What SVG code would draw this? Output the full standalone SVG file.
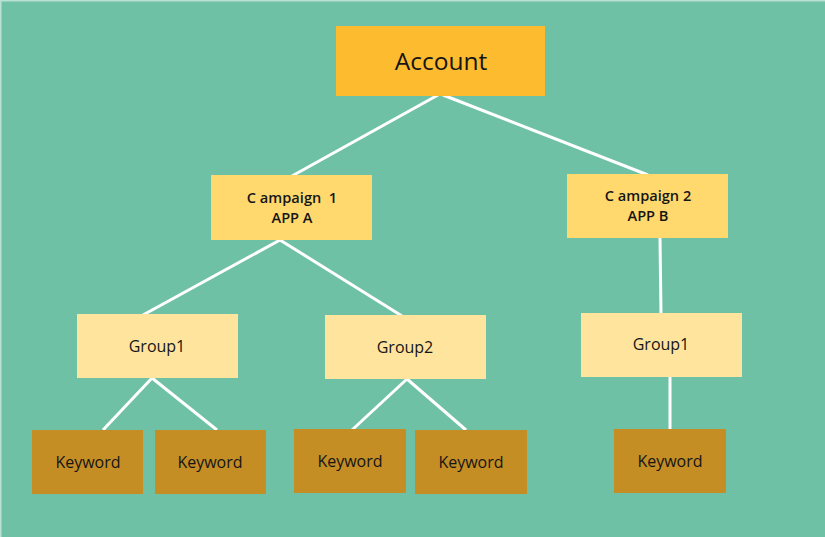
<svg xmlns="http://www.w3.org/2000/svg" width="825" height="537" viewBox="0 0 825 537">
<style>
text{font-family:"Open Sans","Noto Sans","Liberation Sans",sans-serif;fill:#151515;text-anchor:middle}
.acc{fill:#FDBB30}
.camp{fill:#FFD86E}
.grp{fill:#FFE49E}
.kw{fill:#C48E25}
.tc{font-size:14.6px;font-weight:600}
.tg{font-size:16px;font-weight:500}
#connectors line{stroke:#ffffff;stroke-width:3;stroke-linecap:butt}
</style>
<rect x="0" y="0" width="825" height="537" fill="#6FC1A5"/>
<rect x="0" y="0" width="825" height="1.5" fill="#B9E2D3"/>
<rect x="0" y="0" width="1.5" height="537" fill="#B9E2D3"/>
<g id="connectors">
<line x1="438" y1="95" x2="292" y2="176"/>
<line x1="443" y1="95" x2="648" y2="175"/>
<line x1="280" y1="240" x2="143" y2="315"/>
<line x1="280" y1="240" x2="402" y2="316"/>
<line x1="660" y1="238" x2="661" y2="314"/>
<line x1="152" y1="378" x2="103" y2="430"/>
<line x1="152" y1="378" x2="217" y2="430"/>
<line x1="407" y1="379" x2="352" y2="430"/>
<line x1="407" y1="379" x2="466" y2="430"/>
<line x1="670" y1="377" x2="670" y2="430"/>
</g>
<g id="account"><rect class="acc" x="336" y="26" width="209" height="70"/><text x="441" y="70" font-size="24.5">Account</text></g>
<g id="campaign1"><rect class="camp" x="211" y="175" width="161" height="65"/><text class="tc" x="292" y="203" xml:space="preserve">C ampaign  1</text><text class="tc" x="292" y="223">APP A</text></g>
<g id="campaign2"><rect class="camp" x="567" y="174" width="161" height="64"/><text class="tc" x="648" y="201" xml:space="preserve">C ampaign 2</text><text class="tc" x="648" y="221">APP B</text></g>
<g id="group1a"><rect class="grp" x="77" y="314" width="161" height="64"/><text class="tg" x="157" y="352">Group1</text></g>
<g id="group2"><rect class="grp" x="325" y="315" width="161" height="64"/><text class="tg" x="405" y="353">Group2</text></g>
<g id="group1b"><rect class="grp" x="581" y="313" width="161" height="64"/><text class="tg" x="661" y="350">Group1</text></g>
<g id="kw1"><rect class="kw" x="32" y="430" width="111" height="64"/><text class="tg" x="88" y="468">Keyword</text></g>
<g id="kw2"><rect class="kw" x="155" y="430" width="111" height="64"/><text class="tg" x="210" y="468">Keyword</text></g>
<g id="kw3"><rect class="kw" x="294" y="429" width="112" height="64"/><text class="tg" x="350" y="467">Keyword</text></g>
<g id="kw4"><rect class="kw" x="415" y="430" width="112" height="64"/><text class="tg" x="471" y="468">Keyword</text></g>
<g id="kw5"><rect class="kw" x="614" y="429" width="112" height="64"/><text class="tg" x="670" y="467">Keyword</text></g>
</svg>
